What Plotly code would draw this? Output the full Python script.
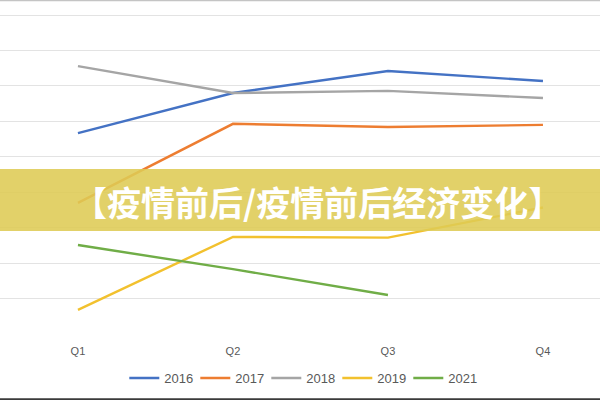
import plotly.graph_objects as go

quarters = ["Q1", "Q2", "Q3", "Q4"]
s2016 = [5.67, 6.80, 7.42, 7.14]
s2017 = [3.70, 5.93, 5.84, 5.90]
s2018 = [7.56, 6.80, 6.86, 6.66]
s2019 = [0.68, 2.74, 2.72, 3.57]
s2021 = [2.51, 1.83, 1.10, None]

series_names = ["2016", "2017", "2018", "2019", "2021"]
series_values = [s2016, s2017, s2018, s2019, s2021]
series_colors = ["#4472C4", "#ED7D31", "#A5A5A5", "#F2C12E", "#70AD47"]

banner_text = "【疫情前后/疫情前后经济变化】"

W, H = 600, 400
PLOT_BOTTOM = 334  # px from top


def py(p):
    # pixel y (from top) -> paper coordinate
    return (PLOT_BOTTOM - p) / PLOT_BOTTOM


fig = go.Figure()
for name, vals, col in zip(series_names, series_values, series_colors):
    fig.add_trace(go.Scatter(x=quarters, y=vals, name=name, mode="lines",
                             line=dict(color=col, width=2.4),
                             connectgaps=False))

fig.update_layout(
    width=W, height=H,
    margin=dict(l=0, r=0, t=0, b=H - PLOT_BOTTOM),
    paper_bgcolor="white", plot_bgcolor="white",
    showlegend=True,
    legend=dict(orientation="h", x=0.503, xanchor="center", y=py(378), yanchor="middle",
                font=dict(family="Liberation Sans", size=13, color="#595959"),
                entrywidth=26, entrywidthmode="pixels", bgcolor="rgba(0,0,0,0)"),
    xaxis=dict(type="category", range=[-0.503, 3.368], showgrid=False, zeroline=False,
               showline=False, ticks="", ticklabelstandoff=9,
               tickfont=dict(family="Liberation Sans", size=11, color="#595959")),
    yaxis=dict(range=[0, 9.424], dtick=1, tick0=0, showticklabels=False, showgrid=True,
               gridcolor="#e3e3e3", gridwidth=1, zeroline=False, showline=False, ticks=""),
    shapes=[
        dict(type="rect", xref="paper", yref="paper", x0=0, x1=1, y0=py(231), y1=py(169),
             fillcolor="rgba(222,203,84,0.88)", line=dict(width=0), layer="above"),
        dict(type="line", xref="paper", yref="paper", x0=0, x1=1, y0=py(0.5), y1=py(0.5),
             line=dict(color="#c4c4c4", width=1.5), layer="above"),
        dict(type="line", xref="paper", yref="paper", x0=0, x1=1, y0=py(399.2), y1=py(399.2),
             line=dict(color="#3a3a3a", width=2), layer="above"),
    ],
    annotations=[
        dict(text="<b>" + banner_text + "</b>", xref="paper", yref="paper",
             x=317.5 / W, y=py(201), xanchor="center", yanchor="middle", showarrow=False,
             font=dict(family="Noto Sans CJK SC", size=34, color="white")),
    ],
)

fig.write_html("out.html", config={"displayModeBar": False},
               post_script="document.body.style.margin='0';document.body.style.overflow='hidden';")
